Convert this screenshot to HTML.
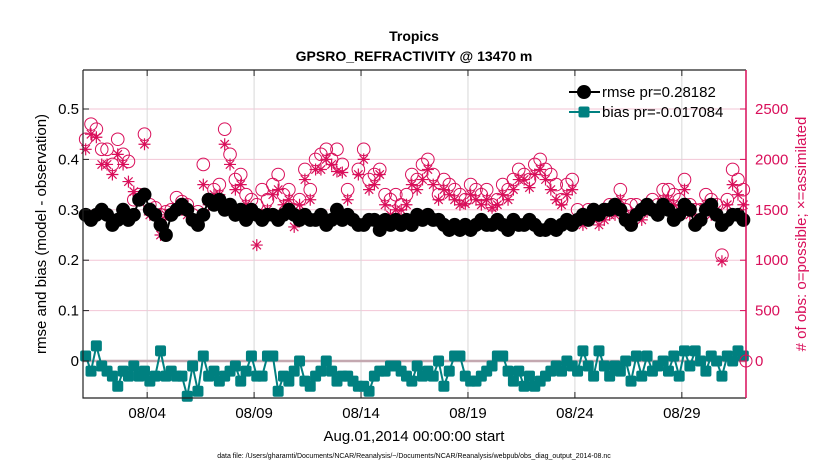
<!DOCTYPE html>
<html><head><meta charset="utf-8"><style>
body{margin:0;background:#fff;}
svg{display:block;font-family:"Liberation Sans",sans-serif;}
</style></head><body>
<svg id="chart" width="830" height="470">
<text x="414" y="41" text-anchor="middle" font-size="14" font-weight="bold">Tropics</text>
<text x="414" y="61" text-anchor="middle" font-size="14" font-weight="bold">GPSRO_REFRACTIVITY @ 13470 m</text>
<g id="grid"></g>
<g id="marks"></g>
<g id="axes"></g>
<text transform="translate(46,234) rotate(-90)" text-anchor="middle" font-size="15">rmse and bias (model - observation)</text>
<text transform="translate(806,234) rotate(-90)" text-anchor="middle" font-size="15" fill="#d90f5a"># of obs: o=possible; ×=assimilated</text>
<text x="414" y="441" text-anchor="middle" font-size="15">Aug.01,2014 00:00:00 start</text>
<text x="414" y="458" text-anchor="middle" font-size="7">data file: /Users/gharamti/Documents/NCAR/Reanalysis/~/Documents/NCAR/Reanalysis/webpub/obs_diag_output_2014-08.nc</text>
<g id="legend"></g>
</svg>
<script>
const xTickDays = [3,8,13,18,23,28];
const xTickLabels = ["08/04","08/09","08/14","08/19","08/24","08/29"];
const leftTicks = [0,0.1,0.2,0.3,0.4,0.5];
const rightTicks = [0,500,1000,1500,2000,2500];
const rmse = [.29,.28,.29,.30, .29,.27,.28,.30, .28,.29,.32,.33, .30,.29,.27,.25, .29,.30,.31,.30, .28,.27,.29,.32, .31,.32,.30,.31, .29,.30,.28,.30, .29,.28,.29,.29, .28,.29,.30,.29, .28,.29,.28,.28, .29,.27,.28,.30, .28,.29,.28,.27, .27,.28,.28,.26, .28,.27,.28,.27, .28,.27,.29,.28, .29,.28,.28,.27, .26,.27,.26,.27, .26,.27,.28,.27, .27,.28,.27,.26, .28,.27,.27,.28, .27,.26,.26,.27, .26,.27,.28,.27, .28,.29,.28,.30, .29,.30,.30,.31, .30,.28,.27,.29, .30,.31,.30,.29, .31,.30,.28,.29, .31,.30,.27,.28, .30,.31,.29,.27, .28,.29,.29,.28];
const bias = [.01,-.02,.03,-.01, -.02,-.03,-.05,-.02, -.03,-.01,-.03,-.02, -.04,-.03,.02,-.03, -.02,-.03,-.03,-.07, -.01,-.06,.01,-.03, -.02,-.04,-.03,-.02, -.01,-.04,-.02,.01, -.03,-.03,.01,.01, -.06,-.03,-.04,-.02, .00,-.04,-.05,-.03, -.02,.00,-.02,-.04, -.03,-.03,-.04,-.05, -.05,-.06,-.03,-.02, -.02,-.01,-.01,-.02, -.03,-.04,-.01,-.03, -.02,-.03,.00,-.05, -.02,.01,.01,-.03, -.04,-.04,-.03,-.02, -.01,.01,.01,-.02, -.04,-.02,-.05,-.03, -.05,-.04,-.03,-.02, -.01,-.02,.00,-.01, -.02,.02,-.01,-.03, .02,-.01,-.03,-.01, -.02,.00,-.04,.01, -.03,.01,-.02,-.01, .00,-.02,.01,-.03, .02,-.01,.02,.00, -.02,.01,.00,-.03, .01,.00,.02,.01];
const possible = [2200,2350,2300,2100, 2100,1950,2200,2050, 1980,1600,1650,2250, 1550,1520,1450,1480, 1500,1620,1580,1550, 1450,1480,1950,1600, 1700,1750,2300,2050, 1800,1850,1650,1600, 1550,1700,1600,1750, 1850,1650,1700,1500, 1600,1900,1700,2000, 2050,2100,2000,2100, 1950,1700,1400,1900, 2100,1800,1850,1900, 1650,1600,1650,1550, 1650,1850,1800,1950, 2000,1850,1650,1800, 1750,1700,1650,1600, 1750,1700,1650,1700, 1550,1600,1750,1700, 1800,1900,1850,1800, 1950,2000,1900,1850, 1750,1600,1750,1800, 1500,1450,1500,1500, 1450,1500,1550,1550, 1700,1500,1550,1550, 1500,1550,1600,1550, 1700,1700,1650,1600, 1800,1550,1500,1500, 1650,1600,1550,1050, 1600,1900,1800,1700];
const assimilated = [2100,2250,2220,1950, 1950,1850,2050,1950, 1780,1680,1600,2150, 1450,1470,1250,1450, 1450,1520,1500,1450, 1400,1350,1750,1550, 1650,1650,2150,1950, 1700,1750,1550,1470, 1150,1450,1500,1650, 1700,1550,1600,1330, 1550,1800,1600,1900, 1900,2000,1950,1880, 1870,1600,1400,1850, 2000,1700,1750,1850, 1550,1450,1500,1500, 1550,1750,1700,1800, 1900,1750,1600,1700, 1650,1600,1550,1560, 1650,1600,1550,1600, 1520,1550,1650,1600, 1700,1800,1800,1720, 1850,1900,1800,1700, 1600,1550,1650,1700, 1400,1350,1400,1420, 1350,1400,1450,1450, 1600,1420,1450,1480, 1400,1480,1500,1500, 1600,1600,1550,1500, 1700,1450,1350,1420, 1550,1450,1500,990, 1550,1750,1650,1550];

const NS='http://www.w3.org/2000/svg';
const L=83,R=746,T=70,B=398;
const xs=d=>L+(d/31)*(R-L);
const yl=v=>361-v*504;
const yr=c=>361-c*0.1008;
function mk(tag,attrs,parent){const e=document.createElementNS(NS,tag);for(const k in attrs)e.setAttribute(k,attrs[k]);parent.appendChild(e);return e;}
const grid=document.getElementById('grid'),marks=document.getElementById('marks'),axes=document.getElementById('axes'),leg=document.getElementById('legend');
const CR='#d90f5a',TE='#008080';
leftTicks.forEach(v=>{const l=mk('line',{x1:L,x2:R,y1:yl(v),y2:yl(v),stroke:'#f3c6d6','stroke-width':1},grid);

});
xTickDays.forEach(d=>{const l=mk('line',{x1:xs(d),x2:xs(d),y1:T,y2:B,stroke:'#d8d8d8','stroke-width':1},grid);

});
const zl=mk('line',{x1:L,x2:R,y1:yl(0),y2:yl(0),stroke:'#c4a8b0','stroke-width':2.5},grid);


const xd=i=>(i+0.5)*0.25;
possible.forEach((c,i)=>{const e=mk('circle',{cx:xs(xd(i)),cy:yr(c),r:6.3,fill:'none',stroke:CR,'stroke-width':1},marks);

});
assimilated.forEach((c,i)=>{const x=xs(xd(i)),y=yr(c),s=6;
const e=mk('path',{d:`M${x-s},${y}H${x+s}M${x},${y-s}V${y+s}M${x-4.2},${y-4.2}L${x+4.2},${y+4.2}M${x-4.2},${y+4.2}L${x+4.2},${y-4.2}`,stroke:CR,'stroke-width':1.2,fill:'none'},marks);

});
const rl=mk('polyline',{points:rmse.map((v,i)=>xs(xd(i))+','+yl(v)).join(' '),fill:'none',stroke:'#000','stroke-width':2},marks);


rmse.forEach((v,i)=>{const e=mk('circle',{cx:xs(xd(i)),cy:yl(v),r:7,fill:'#000'},marks);

});
const bl=mk('polyline',{points:bias.map((v,i)=>xs(xd(i))+','+yl(v)).join(' '),fill:'none',stroke:TE,'stroke-width':2},marks);


bias.forEach((v,i)=>{const e=mk('rect',{x:xs(xd(i))-5.5,y:yl(v)-5.5,width:11,height:11,rx:2,fill:TE},marks);

});
const em=mk('circle',{cx:R,cy:yr(0),r:6,fill:'none',stroke:CR,'stroke-width':1},marks);


const fr=mk('path',{d:`M${L},${T}V${B}H${R}M${L},${T}H${R}`,stroke:'#222','stroke-width':1.2,fill:'none'},axes);


const ra=mk('line',{x1:R,x2:R,y1:T,y2:B,stroke:CR,'stroke-width':1.5},axes);


xTickDays.forEach((d,i)=>{mk('line',{x1:xs(d),x2:xs(d),y1:B,y2:B-6,stroke:'#222'},axes);mk('line',{x1:xs(d),x2:xs(d),y1:T,y2:T+6,stroke:'#222'},axes);
const t=mk('text',{x:xs(d),y:418,'text-anchor':'middle','font-size':15},axes);t.textContent=xTickLabels[i];

});
leftTicks.forEach(v=>{mk('line',{x1:L,x2:L+6,y1:yl(v),y2:yl(v),stroke:'#222'},axes);
const t=mk('text',{x:L-4,y:yl(v)+5,'text-anchor':'end','font-size':15},axes);t.textContent=String(v);

});
rightTicks.forEach(c=>{mk('line',{x1:R,x2:R-6,y1:yr(c),y2:yr(c),stroke:CR},axes);
const t=mk('text',{x:R+9,y:yr(c)+5,'text-anchor':'start','font-size':15,fill:CR},axes);t.textContent=String(c);

});
mk('line',{x1:569,x2:600,y1:92,y2:92,stroke:'#000','stroke-width':2},leg);
mk('circle',{cx:584,cy:92,r:7,fill:'#000'},leg);
const lt1=mk('text',{x:602,y:97,'font-size':15},leg);lt1.textContent='rmse pr=0.28182';


mk('line',{x1:569,x2:600,y1:112,y2:112,stroke:TE,'stroke-width':2},leg);
mk('rect',{x:578.5,y:106.5,width:11,height:11,rx:2,fill:TE},leg);
const lt2=mk('text',{x:602,y:117,'font-size':15},leg);lt2.textContent='bias pr=-0.017084';


</script>
</body></html>
